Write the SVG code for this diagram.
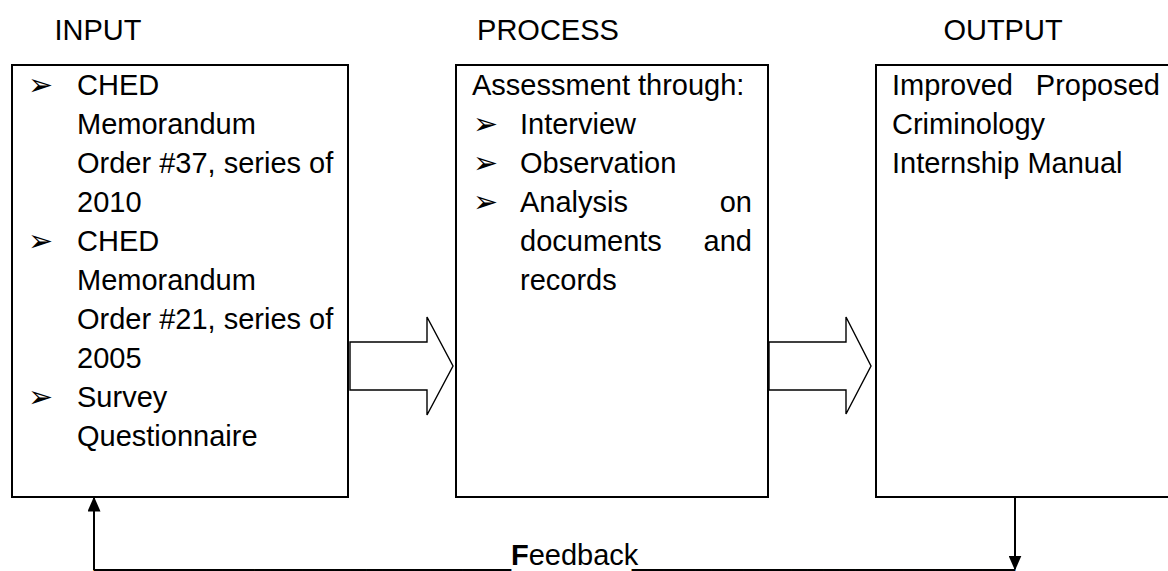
<svg xmlns="http://www.w3.org/2000/svg" width="1168" height="571" viewBox="0 0 1168 571">
<defs>
<style>
.t{font-family:"Liberation Sans",Arial,sans-serif;font-size:29px;fill:#000}
.b{font-family:"DejaVu Sans",sans-serif;font-size:30px;fill:#000}
.box{fill:#fff;stroke:#000;stroke-width:2}
.blk{fill:#fff;stroke:#000;stroke-width:1.4;stroke-linejoin:miter}
.con{stroke:#000;stroke-width:2;fill:none}
</style>
<marker id="ah" viewBox="0 0 10 10" refX="9" refY="5" markerWidth="15" markerHeight="13" markerUnits="userSpaceOnUse" orient="auto" preserveAspectRatio="none">
<path d="M0,0 L10,5 L0,10 z" fill="#000"/>
</marker>
</defs>
<rect width="1168" height="571" fill="#fff"/>
<g id="headings">
<text class="t" x="98" y="40" text-anchor="middle">INPUT</text>
<text class="t" x="548" y="40" text-anchor="middle">PROCESS</text>
<text class="t" x="1003" y="40" text-anchor="middle">OUTPUT</text>
</g>
<g id="input">
<rect class="box" x="12" y="65" width="336" height="432"/>
<text class="b" x="28" y="95">➢</text>
<text class="t" x="77" y="95">CHED</text>
<text class="t" x="77" y="134">Memorandum</text>
<text class="t" x="77" y="173">Order #37, series of</text>
<text class="t" x="77" y="212">2010</text>
<text class="b" x="28" y="251">➢</text>
<text class="t" x="77" y="251">CHED</text>
<text class="t" x="77" y="290">Memorandum</text>
<text class="t" x="77" y="329">Order #21, series of</text>
<text class="t" x="77" y="368">2005</text>
<text class="b" x="28" y="407">➢</text>
<text class="t" x="77" y="407">Survey</text>
<text class="t" x="77" y="446">Questionnaire</text>
</g>
<g id="process">
<rect class="box" x="456" y="65" width="312" height="432"/>
<text class="t" x="472" y="95">Assessment through:</text>
<text class="b" x="473" y="134">➢</text>
<text class="t" x="520" y="134">Interview</text>
<text class="b" x="473" y="173">➢</text>
<text class="t" x="520" y="173">Observation</text>
<text class="b" x="473" y="212">➢</text>
<text class="t" x="520" y="212">Analysis</text>
<text class="t" x="752" y="212" text-anchor="end">on</text>
<text class="t" x="520" y="251">documents</text>
<text class="t" x="752" y="251" text-anchor="end">and</text>
<text class="t" x="520" y="290">records</text>
</g>
<g id="output">
<rect class="box" x="876" y="65" width="320" height="432"/>
<text class="t" x="892" y="95">Improved</text>
<text class="t" x="1160" y="95" text-anchor="end">Proposed</text>
<text class="t" x="892" y="134">Criminology</text>
<text class="t" x="892" y="173">Internship Manual</text>
</g>
<g id="connectors">
<polygon class="blk" points="350,342 427,342 427,317 453,366 427,415 427,390 350,390"/>
<polygon class="blk" points="769,342 846,342 846,317 871,366 846,414 846,390 769,390"/>
<line class="con" x1="94" y1="570" x2="94" y2="498" marker-end="url(#ah)"/>
<line class="con" x1="1015" y1="497" x2="1015" y2="569" marker-end="url(#ah)"/>
<text class="t" x="94" y="565"><tspan textLength="417" lengthAdjust="spacingAndGlyphs">__________________________</tspan><tspan x="511" font-weight="bold">F</tspan><tspan>eedback</tspan><tspan x="632" textLength="383" lengthAdjust="spacingAndGlyphs">________________________</tspan></text>
</g>
</svg>
